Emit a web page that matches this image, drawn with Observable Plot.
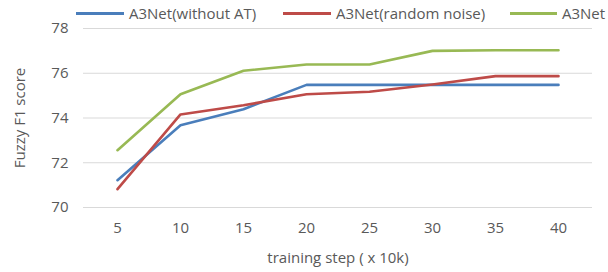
<!DOCTYPE html>
<html><head><meta charset="utf-8">
<script src="https://cdn.jsdelivr.net/npm/d3@7"></script>
<script src="https://cdn.jsdelivr.net/npm/@observablehq/plot@0.6"></script>
<style>
body{margin:0;background:#fff;font-family:"Open Sans",sans-serif;overflow:hidden;}
#wrap{position:relative;width:608px;height:272px;overflow:hidden;}
#legend{position:absolute;top:0;left:0;width:608px;height:26px;font-size:15px;color:#595959;}
.item{position:absolute;top:2px;height:22px;display:flex;align-items:center;white-space:nowrap;}
.sw{display:inline-block;height:3px;margin-right:5px;}
</style></head><body>
<div id="wrap"><div id="legend"></div></div>
<script>
const steps = [5, 10, 15, 20, 25, 30, 35, 40];
const seriesNames = ["A3Net(without AT)", "A3Net(random noise)", "A3Net"];
const withoutAT = [71.22, 73.68, 74.39, 75.48, 75.48, 75.48, 75.48, 75.48];
const randomNoise = [70.82, 74.16, 74.57, 75.06, 75.17, 75.5, 75.87, 75.87];
const a3net = [72.56, 75.06, 76.11, 76.39, 76.39, 77.0, 77.03, 77.03];
const yTicks = [70, 72, 74, 76, 78];
const colors = ["#4a7ebb", "#be4b48", "#98b954"];

const seriesValues = [withoutAT, randomNoise, a3net];
const data = seriesNames.flatMap((name, i) => steps.map((s, j) => ({series: name, step: s, value: seriesValues[i][j]})));

const plot = Plot.plot({
  width: 608, height: 272,
  marginLeft: 83, marginRight: 16, marginTop: 28, marginBottom: 65,
  style: {fontFamily: "Open Sans, sans-serif", fontSize: "15px", color: "#595959", background: "#fff"},
  x: {type: "point", domain: steps, padding: 0.5, label: "training step ( x 10k)", labelAnchor: "center", labelArrow: "none", labelOffset: 55, tickSize: 0, tickPadding: 15},
  y: {domain: [70, 78], ticks: yTicks, label: "Fuzzy F1 score", labelAnchor: "center", labelArrow: "none", labelOffset: 69, tickSize: 0, tickPadding: 15},
  color: {domain: seriesNames, range: colors},
  marks: [
    Plot.ruleY(yTicks, {stroke: "#d9d9d9", strokeWidth: 1}),
    Plot.line(data, {x: "step", y: "value", stroke: "series", strokeWidth: 2.6, strokeLinejoin: "round"})
  ]
});
document.getElementById("wrap").appendChild(plot);

const legendPos = [76, 283, 510];
const swW = [48, 48, 47];
const leg = document.getElementById("legend");
seriesNames.forEach((n, i) => {
  const it = document.createElement("div");
  it.className = "item";
  it.style.left = legendPos[i] + "px";
  it.innerHTML = `<span class="sw" style="width:${swW[i]}px;background:${colors[i]}"></span><span>${n}</span>`;
  leg.appendChild(it);
});
</script>
</body></html>
